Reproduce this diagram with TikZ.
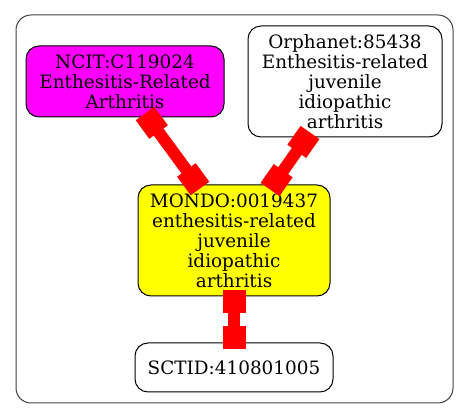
\documentclass[tikz,border=0pt]{standalone}
\usepackage{fontspec}
\setmainfont{DejaVu Serif}
\usetikzlibrary{arrows.meta,calc}
\definecolor{gvmag}{RGB}{255,0,255}
\definecolor{gvyel}{RGB}{255,255,0}
\definecolor{gvred}{RGB}{255,0,0}
\begin{document}
\begin{tikzpicture}[x=1pt,y=-1pt,
  box/.style={draw=black,line width=1pt,rounded corners=13pt,inner sep=0pt,align=center,
    font=\fontsize{18.4}{20}\selectfont},
  link/.style={draw=gvred,line width=12pt,
    {Rectangle[length=23pt,width=23pt]}-{Rectangle[length=23pt,width=23pt]}}]
\useasboundingbox (0,0) rectangle (469,419);
\draw[draw=black!75,line width=1pt,rounded corners=15pt] (16,15) rectangle (453,403);
\node[box,fill=gvmag,minimum width=198pt,minimum height=71pt] (ncit) at (125,81.5)
  {NCIT:C119024\\Enthesitis-Related\\Arthritis};
\node[box,fill=white,minimum width=194pt,minimum height=111pt] (orph) at (345,81.5)
  {Orphanet:85438\\Enthesitis-related\\juvenile\\idiopathic\\arthritis};
\node[box,fill=gvyel,minimum width=192pt,minimum height=111pt] (mondo) at (234,240.5)
  {MONDO:0019437\\enthesitis-related\\juvenile\\idiopathic\\arthritis};
\node[box,fill=white,minimum width=198pt,minimum height=49pt] (sctid) at (234,367.5)
  {SCTID:410801005};
\draw[link] ($(ncit.south)+(20,-4)$) -- ($(mondo.north)+(-34,4)$);
\draw[link] ($(orph.south)+(-35,-5)$) -- ($(mondo.north)+(36,5)$);
\draw[link] ($(mondo.south)+(0,-6)$) -- ($(sctid.north)+(0,7)$);
\end{tikzpicture}
\end{document}
